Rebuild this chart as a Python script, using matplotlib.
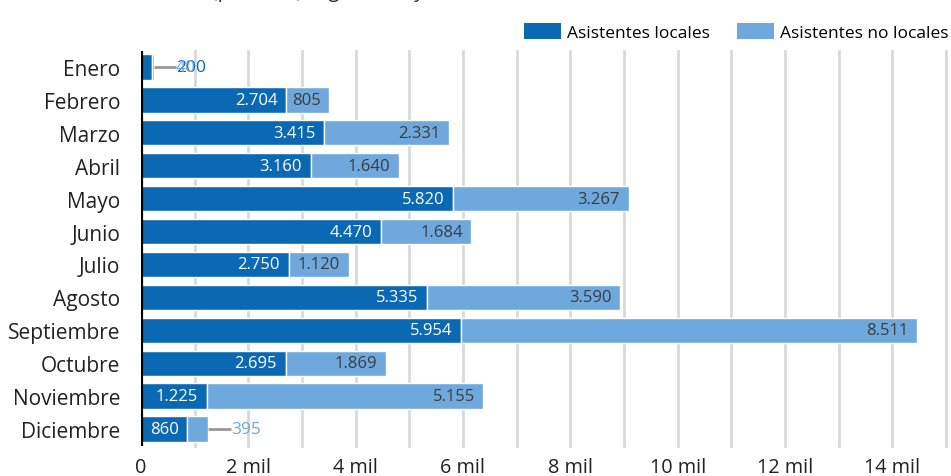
import matplotlib
matplotlib.use("Agg")
import matplotlib.pyplot as plt
from matplotlib.patches import Patch

plt.rcParams['font.family'] = ['Open Sans', 'DejaVu Sans']

meses = ["Enero", "Febrero", "Marzo", "Abril", "Mayo", "Junio", "Julio",
         "Agosto", "Septiembre", "Octubre", "Noviembre", "Diciembre"]
locales = [200, 2704, 3415, 3160, 5820, 4470, 2750, 5335, 5954, 2695, 1225, 860]
no_locales = [40, 805, 2331, 1640, 3267, 1684, 1120, 3590, 8511, 1869, 5155, 395]
series_names = ["Asistentes locales", "Asistentes no locales"]
xticks_vals = [0, 2000, 4000, 6000, 8000, 10000, 12000, 14000]
xticks_labels = ["0", "2 mil", "4 mil", "6 mil", "8 mil", "10 mil", "12 mil", "14 mil"]
titulo = "Número de asistentes (públicos) según mes y residencia"

C_DARK = "#0b69b3"
C_LIGHT = "#6fa8dc"
C_GRID = "#d9d9d9"


def fmt(v):
    return f"{v:,}".replace(",", ".")


W, H = 951, 477
fig = plt.figure(figsize=(W / 100, H / 100), dpi=100)
ax = fig.add_axes([141 / W, 1 - 446.5 / H, (946 - 141) / W, 395 / H])

y = list(range(len(meses)))
ax.barh(y, locales, height=0.77, color=C_DARK, edgecolor="white", linewidth=1, zorder=3)
ax.barh(y, no_locales, left=locales, height=0.77, color=C_LIGHT, edgecolor="white",
        linewidth=1, zorder=3)

ax.set_xlim(0, 15000)
ax.set_ylim(len(meses) - 0.5, -0.5)

# grid every 1000
for g in range(1000, 15001, 1000):
    ax.axvline(g, color=C_GRID, lw=2.0, zorder=1, clip_on=False)
ax.axvline(0, color="black", lw=2.3, zorder=5)

ax.set_xticks(xticks_vals)
ax.set_xticklabels(xticks_labels, fontsize=14.3, color="#222222")
ax.set_yticks(y)
ax.set_yticklabels(meses, fontsize=15, color="#222222")
ax.tick_params(axis="both", length=0)
ax.tick_params(axis="y", pad=15)
ax.tick_params(axis="x", pad=8.5)
for s in ax.spines.values():
    s.set_visible(False)

PAD = 160  # data units inside padding
THRESH = 600
LEAD = 420
for i in range(len(meses)):
    a, b = locales[i], no_locales[i]
    total = a + b
    outside = []
    if a >= THRESH:
        ax.text(a - PAD, i, fmt(a), ha="right", va="center", color="white",
                fontsize=12, zorder=6)
    else:
        outside.append((a, C_DARK))
    if b >= THRESH:
        ax.text(total - PAD, i, fmt(b), ha="right", va="center", color="#3c3c3c",
                fontsize=12, zorder=6)
    else:
        outside.append((b, C_LIGHT))
    if outside:
        ax.plot([total, total + LEAD], [i, i], color="#999999", lw=2, zorder=4,
                solid_capstyle="butt")
        for k, (v, c) in enumerate(outside):
            ax.text(total + LEAD - 20 * k, i, fmt(v), ha="left", va="center",
                    color=c, fontsize=12.5, zorder=6)

handles = [Patch(facecolor=C_DARK), Patch(facecolor=C_LIGHT)]
fig.legend(handles, series_names, ncol=2, loc="center right",
           bbox_to_anchor=(949 / W, 1 - 33 / H), frameon=False, fontsize=12.5,
           handlelength=2.13, handleheight=1.03, handletextpad=0.35,
           columnspacing=1.6, borderpad=0, borderaxespad=0)

fig.text(0.0, 1 + 2.5 / H, titulo, fontsize=14.5, ha="left", va="baseline", color="#333333")

fig.savefig("out.png", dpi=100)
